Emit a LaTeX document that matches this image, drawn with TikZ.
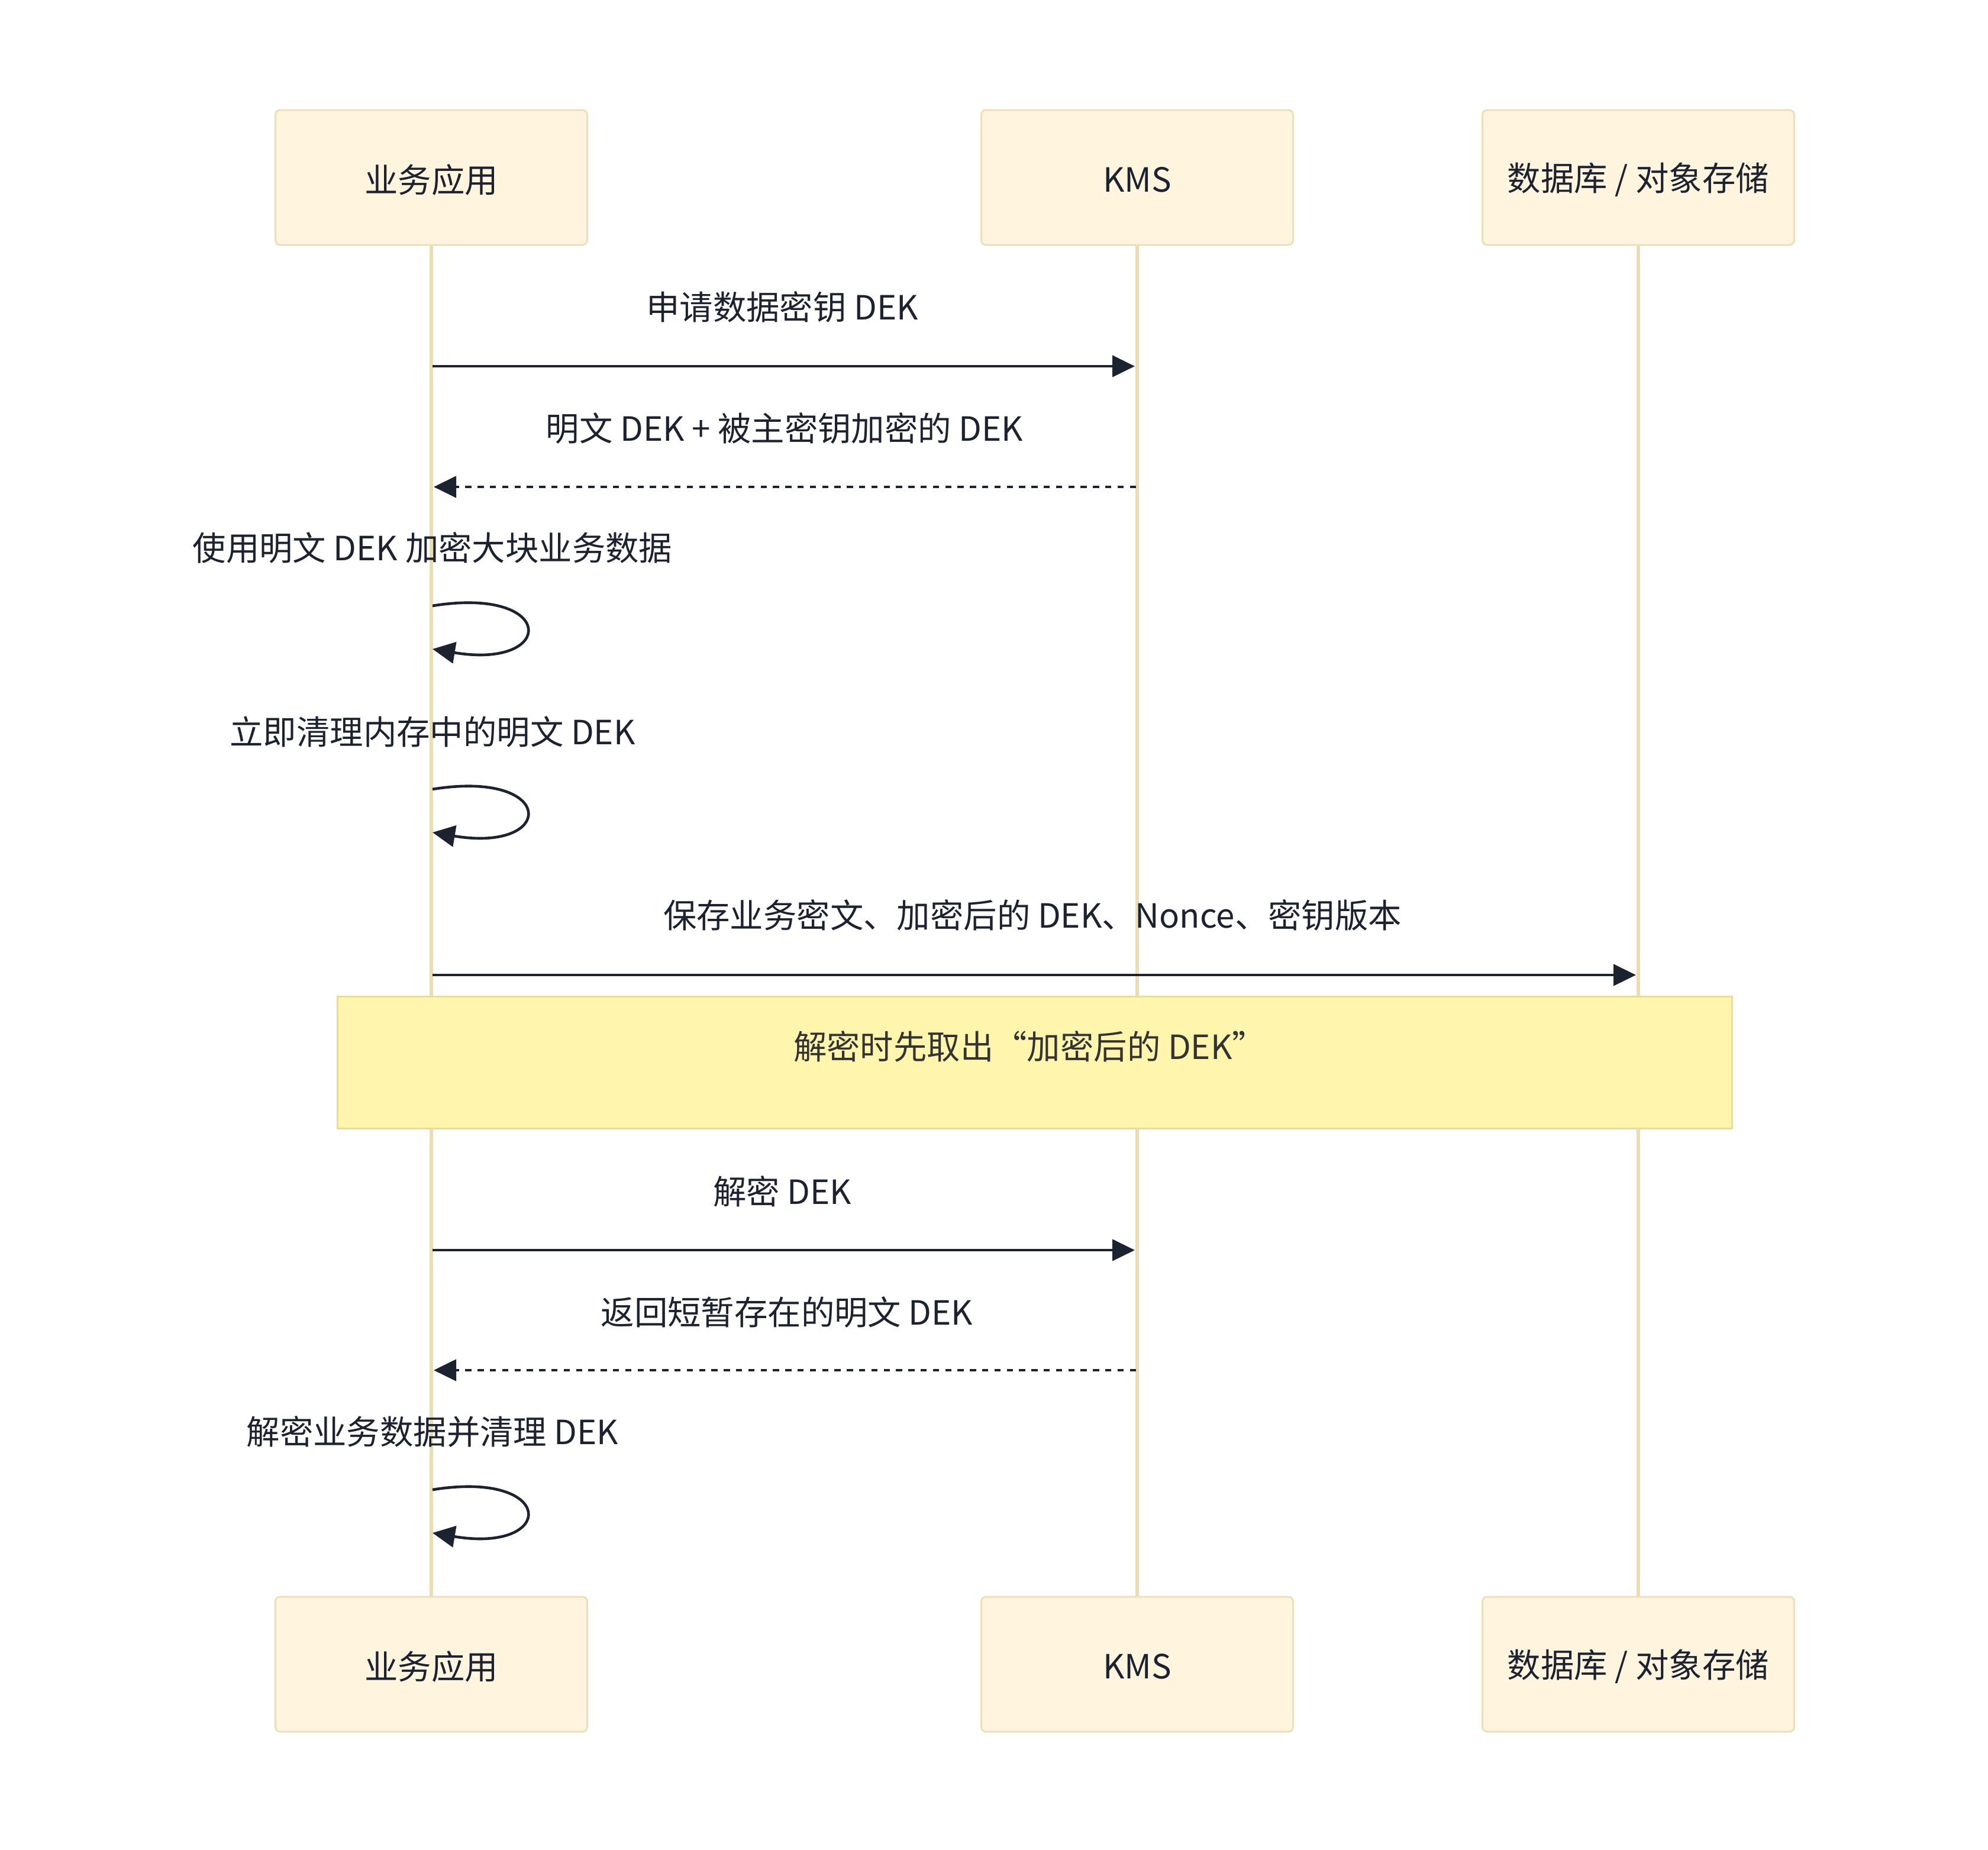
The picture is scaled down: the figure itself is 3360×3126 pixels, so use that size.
\documentclass[tikz,border=0pt]{standalone}
\usepackage{fontspec}
\setmainfont{Noto Sans CJK SC}
\usetikzlibrary{arrows.meta}
\definecolor{boxfill}{HTML}{FFF4DD}
\definecolor{boxline}{HTML}{EDE0B8}
\definecolor{life}{HTML}{EADCB5}
\definecolor{ink}{HTML}{1C2230}
\definecolor{notefill}{HTML}{FFF5AD}
\definecolor{noteline}{HTML}{EADB95}
\definecolor{notetext}{HTML}{333333}
\begin{document}
\begin{tikzpicture}[x=0.25pt,y=-0.25pt,
  font=\fontsize{14.1}{16}\selectfont,
  actor/.style={draw=boxline,fill=boxfill,line width=0.75pt,rounded corners=2pt,
    minimum width=131.75pt,minimum height=57pt,inner sep=0pt},
  lifeline/.style={draw=life,line width=1.3pt},
  lbl/.style={inner sep=0pt,text=ink,anchor=center},
  msg/.style={draw=ink,line width=1.15pt,-{Triangle[length=9.5pt,width=9pt]}},
  reply/.style={msg,dash pattern=on 2.6pt off 2.6pt},
  notebox/.style={draw=noteline,fill=notefill,line width=0.75pt,inner sep=0pt}]
\useasboundingbox (0,0) rectangle (3360,3126);
% lifelines
\coordinate (aT) at (729,414); \coordinate (aB) at (729,2700);
\coordinate (kT) at (1922,414); \coordinate (kB) at (1922,2700);
\coordinate (dT) at (2769,414); \coordinate (dB) at (2769,2700);
\draw[lifeline] (aT) -- (aB);
\draw[lifeline] (kT) -- (kB);
\draw[lifeline] (dT) -- (dB);
% participants
\node[actor] (a1) at (729,300) {};
\node[actor] (k1) at (1922,300) {};
\node[actor] (d1) at (2769,300) {};
\node[actor] (a2) at (729,2813) {};
\node[actor] (k2) at (1922,2813) {};
\node[actor] (d2) at (2769,2813) {};
\node[lbl] (a1t) at (729,304) {业务应用};
\node[lbl] (k1t) at (1922,304) {KMS};
\node[lbl] (d1t) at (2769,304) {数据库 / 对象存储};
\node[lbl] (a2t) at (729,2817) {业务应用};
\node[lbl] (k2t) at (1922,2817) {KMS};
\node[lbl] (d2t) at (2769,2817) {数据库 / 对象存储};
% messages
\coordinate (m1a) at (731,619); \coordinate (m1k) at (1918,619);
\node[lbl] (t1) at (1322,519) {申请数据密钥 DEK};
\draw[msg] (m1a) -- (m1k);
\coordinate (m2k) at (1920,823); \coordinate (m2a) at (733,823);
\node[lbl] (t2) at (1326,724) {明文 DEK + 被主密钥加密的 DEK};
\draw[reply] (m2k) -- (m2a);
\node[lbl] (t3) at (731,926) {使用明文 DEK 加密大块业务数据};
\coordinate (s1a) at (731,1024); \coordinate (s1b) at (731,1097);
\draw[msg] (s1a) .. controls (941,990) and (941,1132) .. (s1b);
\node[lbl] (t4) at (731,1237) {立即清理内存中的明文 DEK};
\coordinate (s2a) at (731,1334); \coordinate (s2b) at (731,1407);
\draw[msg] (s2a) .. controls (941,1300) and (941,1442) .. (s2b);
\coordinate (m5a) at (731,1648); \coordinate (m5d) at (2765,1648);
\node[lbl] (t5) at (1745,1547) {保存业务密文、加密后的 DEK、Nonce、密钥版本};
\draw[msg] (m5a) -- (m5d);
% note
\node[notebox,minimum width=589.25pt,minimum height=55.75pt] (note) at (1748.5,1795.5) {};
\node[lbl,text=notetext] (nt) at (1740,1769) {解密时先取出“加密后的 DEK”};
% decrypt
\coordinate (m6a) at (731,2113); \coordinate (m6k) at (1918,2113);
\node[lbl] (t6) at (1322,2014) {解密 DEK};
\draw[msg] (m6a) -- (m6k);
\coordinate (m7k) at (1920,2316); \coordinate (m7a) at (733,2316);
\node[lbl] (t7) at (1330,2218) {返回短暂存在的明文 DEK};
\draw[reply] (m7k) -- (m7a);
\node[lbl] (t8) at (731,2420) {解密业务数据并清理 DEK};
\coordinate (s3a) at (731,2518); \coordinate (s3b) at (731,2591);
\draw[msg] (s3a) .. controls (941,2484) and (941,2626) .. (s3b);
\end{tikzpicture}
\end{document}
